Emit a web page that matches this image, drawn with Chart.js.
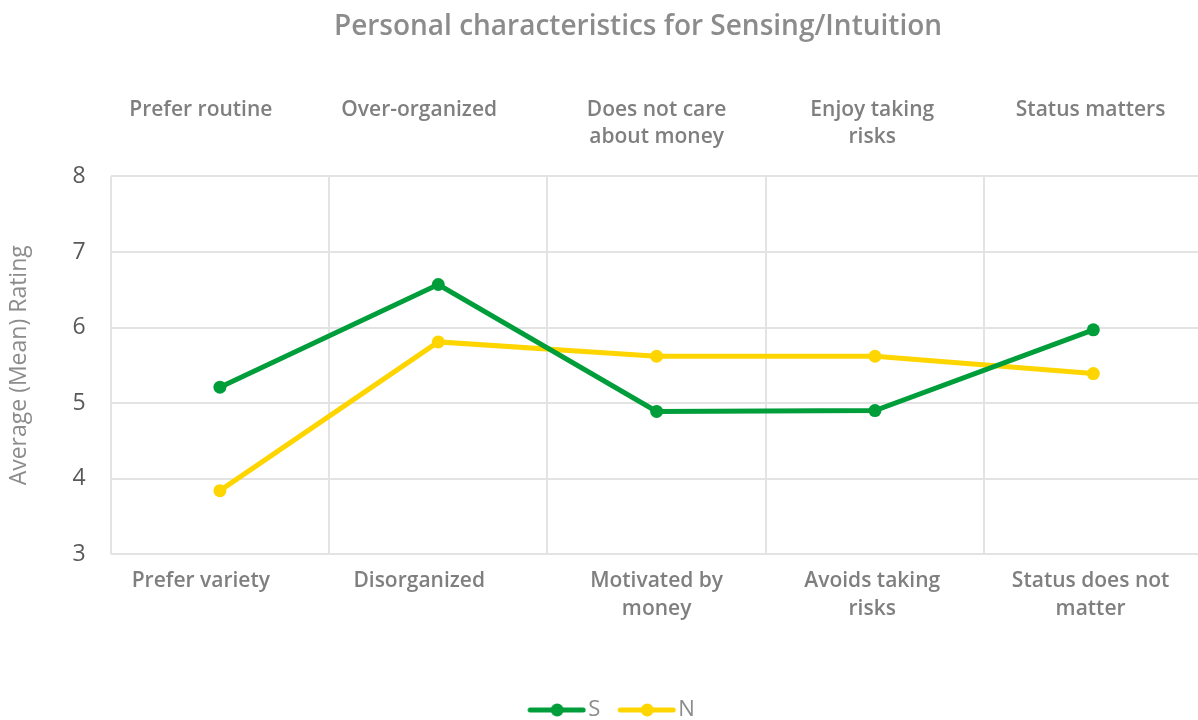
<!DOCTYPE html>
<html><head><meta charset="utf-8">
<script src="https://cdn.jsdelivr.net/npm/chart.js@4.4.1/dist/chart.umd.min.js"></script>
<style>
html,body{margin:0;padding:0;background:#fff;overflow:hidden;}
#wrap{width:1209px;height:720px;position:relative;}
</style></head><body>
<div id="wrap"><canvas id="c"></canvas></div>
<script>
const bottomLabels = [["Prefer variety", ""], ["Disorganized", ""], ["Motivated by", "money"], ["Avoids taking", "risks"], ["Status does not", "matter"]];
const topLabels = [["Prefer routine", ""], ["Over-organized", ""], ["Does not care", "about money"], ["Enjoy taking", "risks"], ["Status matters", ""]];
const seriesS = [5.21, 6.57, 4.89, 4.90, 5.97];
const seriesN = [3.84, 5.81, 5.62, 5.62, 5.39];
const yTicks = [3, 4, 5, 6, 7, 8];

const GREEN = '#009e3b', YELLOW = '#ffd500';
function legendIcon(color){
  const W = 81, c = document.createElement('canvas');
  c.width = W; c.height = 16;
  const g = c.getContext('2d');
  g.strokeStyle = color; g.lineWidth = 5; g.lineCap = 'round';
  g.beginPath(); g.moveTo(W-56,8); g.lineTo(W-3,8); g.stroke();
  g.fillStyle = color; g.beginPath(); g.arc(W-29,8,6.5,0,Math.PI*2); g.fill();
  return c;
}
const FONT = "'Open Sans', 'Noto Sans', sans-serif";
Chart.defaults.font.family = FONT;

// the first two category labels sit a little left of their points in the original
const LEFT_NUDGE_SPACES = [7, 7, 0, 1, 1];
function nudge(lbl, i) {
  const pad = ' '.repeat(LEFT_NUDGE_SPACES[i] || 0);
  return Array.isArray(lbl) ? lbl.map(l => l ? l + pad : l) : lbl + pad;
}

const titleShift = {
  id: 'titleShift',
  afterLayout(chart) {
    if (chart.titleBlock) { chart.titleBlock.left = 2 * 638 - chart.width; }
  }
};

new Chart(document.getElementById('c'), {
  type: 'line',
  plugins: [titleShift],
  data: {
    labels: bottomLabels,
    datasets: [
      {label: 'S', data: seriesS, borderColor: GREEN, backgroundColor: GREEN, borderWidth: 5, pointRadius: 6.5, pointHoverRadius: 6.5, pointBackgroundColor: GREEN, pointBorderWidth: 0, pointStyle: 'circle', tension: 0, xAxisID: 'x', legendIcon: legendIcon(GREEN)},
      {label: 'N', data: seriesN, borderColor: YELLOW, backgroundColor: YELLOW, borderWidth: 5, pointRadius: 6.5, pointHoverRadius: 6.5, pointBackgroundColor: YELLOW, pointBorderWidth: 0, pointStyle: 'circle', tension: 0, xAxisID: 'x', legendIcon: legendIcon(YELLOW)}
    ]
  },
  options: {
    responsive: true,
    maintainAspectRatio: false,
    animation: false,
    layout: {padding: {left: 0, right: 0, top: 0, bottom: -11}},
    plugins: {
      title: {display: true, text: 'Personal characteristics for Sensing/Intuition', color: '#8c8c8c', font: {size: 28, weight: '600', family: FONT}, padding: {top: 10, bottom: 27}},
      legend: {
        position: 'bottom',
        labels: {
          color: '#8c8c8c', font: {size: 22, family: FONT},
          usePointStyle: true, pointStyleWidth: 63, boxHeight: 16, padding: 4,
          generateLabels: (chart) => chart.data.datasets.map((ds, i) => ({
            text: ds.label, pointStyle: ds.legendIcon, fillStyle: ds.borderColor, strokeStyle: ds.borderColor, lineWidth: 0, hidden: false, datasetIndex: i, fontColor: '#8c8c8c'
          }))
        }
      },
      tooltip: {enabled: false}
    },
    scales: {
      x: {
        type: 'category', position: 'bottom', offset: true,
        grid: {offset: true, color: '#e3e3e3', lineWidth: 2, drawTicks: false},
        border: {display: false},
        ticks: {color: '#7f7f7f', font: {size: 21, weight: '600', family: FONT, lineHeight: 1.33}, padding: 13, maxRotation: 0, autoSkip: false,
          callback: function(v, i) { return nudge(this.getLabelForValue(v), i); }},
        afterFit: (s) => { s.height += 59; }
      },
      x2: {
        type: 'category', position: 'top', labels: topLabels, offset: true,
        grid: {display: false, drawTicks: false}, border: {display: false},
        ticks: {color: '#7f7f7f', font: {size: 21, weight: '600', family: FONT, lineHeight: 1.33}, padding: 25, maxRotation: 0, autoSkip: false,
          callback: function(v, i) { return nudge(this.getLabelForValue(v), i); }}
      },
      y: {
        min: 3, max: 8,
        afterBuildTicks: (s) => { s.ticks = yTicks.map(v => ({value: v})); },
        grid: {color: '#e3e3e3', lineWidth: 2, drawTicks: false},
        border: {display: false},
        ticks: {color: '#595959', font: {size: 23, family: FONT}, padding: 25},
        title: {display: true, text: 'Average (Mean) Rating', color: '#8c8c8c', font: {size: 23, family: FONT}, padding: {top: 6, bottom: 14}}
      }
    }
  }
});
</script>
</body></html>
